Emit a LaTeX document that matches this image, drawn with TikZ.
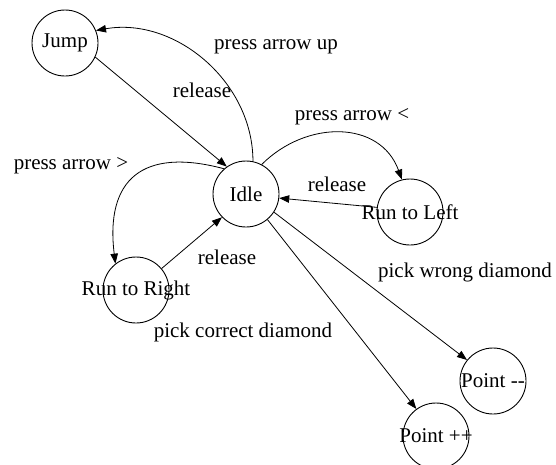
\documentclass[tikz,border=0pt]{standalone}
\usepackage{fontspec}
\setmainfont{Liberation Serif}
\usetikzlibrary{arrows.meta}

\begin{document}
\begin{tikzpicture}[state/.style={circle,draw,line width=0.9pt,minimum size=66pt,inner sep=0pt,
  font=\fontsize{21}{24}\selectfont},
  lbl/.style={anchor=base,inner sep=0pt,font=\fontsize{21}{24}\selectfont},
  arr/.style={-{Triangle[length=10pt,width=7.5pt]},line width=0.8pt}]
\clip (0,0) rectangle (556pt,-464pt);
\begin{scope}[x=1pt,y=1pt]
\node[state] (jump) at (65,-43) {Jump};
\node[state] (idle) at (246,-194) {Idle};
\node[state] (left) at (410,-212) {\makebox[0pt]{Run to Left}};
\node[state] (right) at (136,-290) {\makebox[0pt]{Run to Right}};
\node[state] (wrong) at (493,-381) {\makebox[0pt]{Point {-}{-}}};
\node[state] (correct) at (436,-436) {\makebox[0pt]{Point ++}};
% edge labels
\node[lbl] (lup) at (276,-49.5) {press arrow up};
\node[lbl] (ljump) at (202,-97) {release};
\node[lbl] (lpleft) at (352,-120) {press arrow <};
\node[lbl] (lleft) at (337,-191) {release};
\node[lbl] (lpright) at (71,-169) {press arrow >};
\node[lbl] (lright) at (227,-264) {release};
\node[lbl] (lcorrect) at (243,-337) {pick correct diamond};
\node[lbl] (lwrong) at (465,-277) {pick wrong diamond};
\draw[arr] (idle.78) to[out=90,in=10] (jump.22);
\draw[arr] (jump.-25) -- (idle.125);
\draw[arr] (idle.62) to[out=45,in=110,looseness=1.15] (left.104);
\draw[arr] (left.172) -- (idle.-7);
\draw[arr] (idle.131) to[out=165,in=97,looseness=1.5] (right.128);
\draw[arr] (right.40) -- (idle.224);
\draw[arr] (idle.-33) -- (wrong.141);
\draw[arr] (idle.-50) -- (correct.126);
\end{scope}
\end{tikzpicture}
\end{document}
